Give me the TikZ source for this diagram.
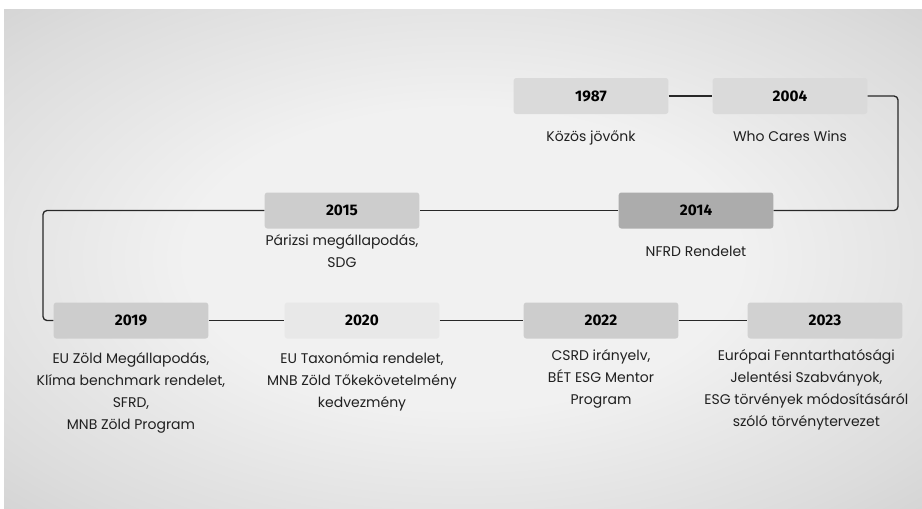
\documentclass[tikz,border=0pt]{standalone}
\usepackage{fontspec}
\setmainfont{Poppins}
\newfontfamily\yearfont{Fira Sans}
\usetikzlibrary{positioning}
\definecolor{bgin}{RGB}{241, 241, 241}
\definecolor{bgmid}{RGB}{220, 220, 220}
\definecolor{bgedge}{RGB}{190, 190, 190}
\definecolor{bgout}{RGB}{165, 165, 165}
\definecolor{boxpale}{RGB}{218, 218, 218}
\definecolor{boxlight}{RGB}{232, 232, 232}
\definecolor{boxmid}{RGB}{205, 205, 205}
\definecolor{boxdark}{RGB}{172, 172, 172}
\definecolor{linedark}{RGB}{40, 40, 40}
\definecolor{textdark}{RGB}{32, 32, 32}
\pgfdeclareradialshading{vignette}{\pgfpoint{0bp}{0bp}}{color(0bp)=(bgin); color(15bp)=(bgin); color(31bp)=(bgmid); color(50bp)=(bgedge); color(72bp)=(bgout)}

\begin{document}
\begin{tikzpicture}[
    x=0.75pt, y=-0.75pt,
    yearbox/.style={rectangle, rounded corners=2pt, minimum width=116pt, minimum height=27pt, inner sep=0pt, font=\yearfont\bfseries\fontsize{11.5}{13}\selectfont, text=black},
    desc/.style={align=center, inner sep=0pt, font=\fontsize{10.5}{16.5}\selectfont, text=textdark},
    link/.style={draw=linedark, line width=1pt, rounded corners=3pt},
]
\useasboundingbox (0,0) rectangle (922,508);

% Background
\shade[shading=vignette] (4,9) rectangle (922,508);

% Years, upper rows
\node[yearbox, fill=boxpale] (y1987) at (591, 96) {1987};
\node[yearbox, fill=boxpale] (y2004) at (790, 96) {2004};
\node[yearbox, fill=boxdark] (y2014) at (696, 210.5) {2014};
\node[yearbox, fill=boxmid] (y2015) at (342, 210.5) {2015};

% Years, bottom row
\node[yearbox, fill=boxmid] (y2019) at (131, 320.5) {2019};
\node[yearbox, fill=boxlight] (y2020) at (362, 320.5) {2020};
\node[yearbox, fill=boxmid] (y2022) at (601, 320.5) {2022};
\node[yearbox, fill=boxmid!85!boxlight] (y2023) at (825, 320.5) {2023};

% Descriptions
\node[desc, below=12pt of y1987] (d1987) {Közös jövőnk};
\node[desc, below=12pt of y2004] (d2004) {Who Cares Wins};
\node[desc, below=12.5pt of y2014] (d2014) {NFRD Rendelet};
\node[desc, below=4.5pt of y2015] (d2015) {Párizsi megállapodás,\\SDG};
\node[desc, below=10pt of y2019] (d2019) {EU Zöld Megállapodás,\\Klíma benchmark rendelet,\\SFRD,\\MNB Zöld Program};
\node[desc, below=10pt of y2020] (d2020) {EU Taxonómia rendelet,\\MNB Zöld Tőkekövetelmény\\kedvezmény};
\node[desc, below=8pt of y2022] (d2022) {CSRD irányelv,\\BÉT ESG Mentor\\Program};
\node[desc, below=8pt of y2023, xshift=-14pt] (d2023) {Európai Fenntarthatósági\\Jelentési Szabványok,\\ESG törvények módosításáról\\szóló törvénytervezet};

% Connectors
\coordinate (rturn) at (898, 96);
\coordinate (lturn) at (43, 210.5);
\draw[link] (y1987.east) -- (y2004.west);
\draw[link] (y2004.east) -- (rturn) |- (y2014.east);
\draw[link] (y2014.west) -- (y2015.east);
\draw[link] (y2015.west) -- (lturn) |- (y2019.west);
\draw[link] (y2019.east) -- (y2020.west);
\draw[link] (y2020.east) -- (y2022.west);
\draw[link] (y2022.east) -- (y2023.west);

\end{tikzpicture}
\end{document}
